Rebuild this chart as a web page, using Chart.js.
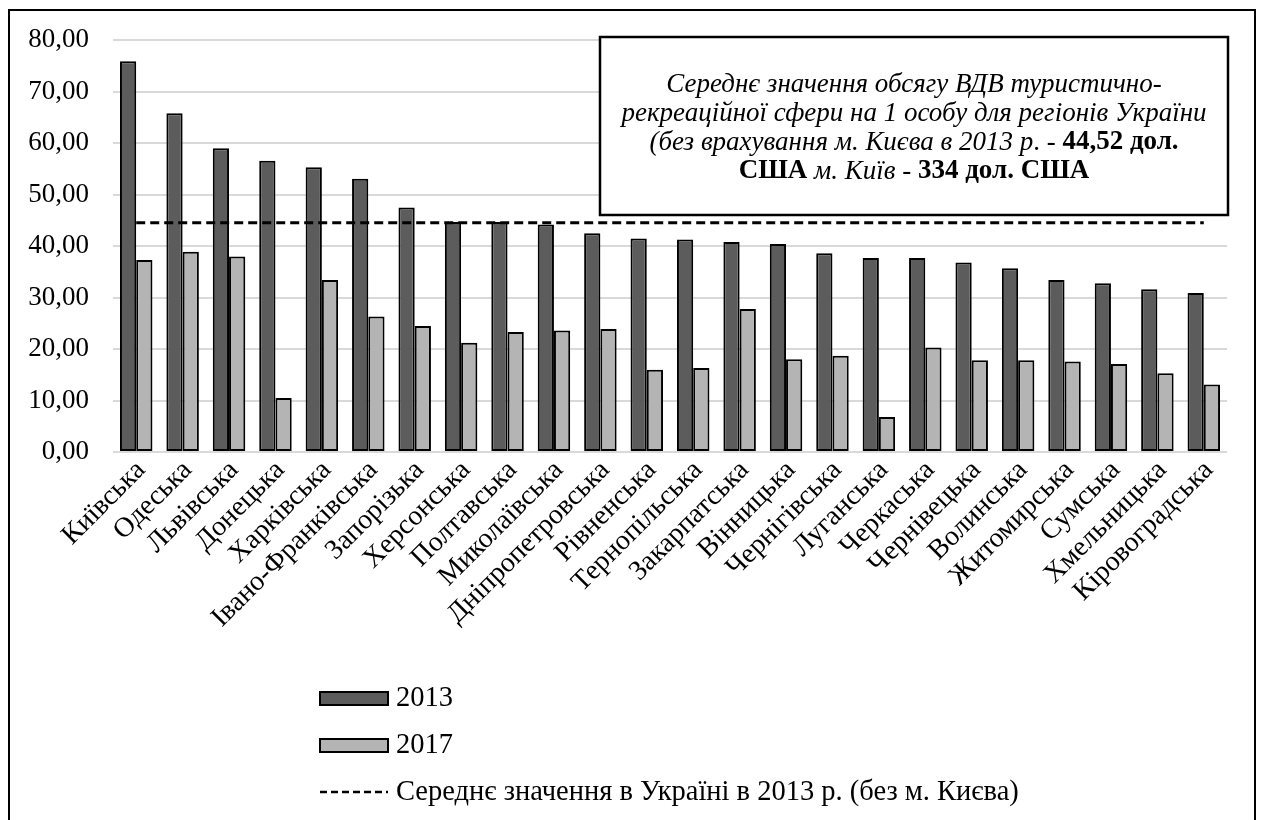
<!DOCTYPE html>
<html>
<head>
<meta charset="utf-8">
<script src="https://cdn.jsdelivr.net/npm/chart.js@4.4.0/dist/chart.umd.min.js"></script>
<style>
html,body{margin:0;padding:0;background:#fff}
#wrap{width:1262px;height:820px;position:relative}
</style>
</head>
<body>
<div id="wrap"><canvas id="chart"></canvas></div>
<script>
const regions=['Київська','Одеська','Львівська','Донецька','Харківська','Івано-Франківська','Запорізька','Херсонська','Полтавська','Миколаївська','Дніпропетровська','Рівненська','Тернопільська','Закарпатська','Вінницька','Чернігівська','Луганська','Черкаська','Чернівецька','Волинська','Житомирська','Сумська','Хмельницька','Кіровоградська'];
const values2013=[75.9,65.8,59.0,56.6,55.3,53.1,47.5,44.7,44.7,44.2,42.5,41.5,41.3,40.8,40.4,38.6,37.7,37.7,36.8,35.7,33.4,32.8,31.6,30.9];
const values2017=[37.3,38.9,38.0,10.5,33.4,26.3,24.5,21.2,23.3,23.6,23.9,16.0,16.3,27.8,18.0,18.7,6.8,20.3,17.8,17.8,17.6,17.1,15.3,13.1];
const mean2013=[44.52,44.52,44.52,44.52,44.52,44.52,44.52,44.52,44.52,44.52,44.52,44.52,44.52,44.52,44.52,44.52,44.52,44.52,44.52,44.52,44.52,44.52,44.52,44.52];
const yTicks={min:0,max:80,step:10};

const SERIF="'Liberation Serif','Times New Roman',serif";

const noteLines=[
  [['italic','Середнє значення обсягу ВДВ туристично-']],
  [['italic','рекреаційної сфери на 1 особу для регіонів України']],
  [['italic','(без врахування м. Києва в 2013 р'],['normal','. - '],['bold','44,52 дол.']],
  [['bold','США'],['italic',' м. Київ'],['normal',' - '],['bold','334 дол. США']]
];

function runFont(style,size){
  if(style==='italic')return 'italic '+size+'px '+SERIF;
  if(style==='bold')return 'bold '+size+'px '+SERIF;
  return size+'px '+SERIF;
}

const decorations={
  id:'decorations',
  beforeDraw(chart){
    const ctx=chart.ctx;
    ctx.save();
    ctx.fillStyle='#fff';
    ctx.fillRect(0,0,chart.width,chart.height);
    ctx.restore();
  },
  afterDraw(chart){
    const ctx=chart.ctx;
    ctx.save();
    // outer frame (bottom edge is cut off in the picture)
    ctx.strokeStyle='#000';
    ctx.lineWidth=2;
    ctx.strokeRect(9,10,1246,900);

    // note box
    const bx=600,by=37,bw=628,bh=178;
    ctx.fillStyle='#fff';
    ctx.fillRect(bx,by,bw,bh);
    ctx.lineWidth=2.5;
    ctx.strokeRect(bx,by,bw,bh);
    ctx.fillStyle='#000';
    ctx.textBaseline='middle';
    ctx.textAlign='left';
    const size=27,lh=29,cx=bx+bw/2;
    const y0=by+bh/2-lh*1.5+2;
    noteLines.forEach((line,i)=>{
      let total=0;
      line.forEach(r=>{ctx.font=runFont(r[0],size);total+=ctx.measureText(r[1]).width;});
      let x=cx-total/2;
      line.forEach(r=>{
        ctx.font=runFont(r[0],size);
        ctx.fillText(r[1],x,y0+i*lh);
        x+=ctx.measureText(r[1]).width;
      });
    });

    // legend, one entry per row
    const lx=320,lw=68,ly=698,gap=47;
    ctx.font=28.5+'px '+SERIF;
    chart.data.datasets.forEach((ds,i)=>{
      const y=ly+i*gap;
      if(ds.type==='line'){
        ctx.strokeStyle=ds.borderColor;
        ctx.lineWidth=2.5;
        ctx.setLineDash([7,4]);
        ctx.beginPath();ctx.moveTo(lx,y);ctx.lineTo(lx+lw,y);ctx.stroke();
        ctx.setLineDash([]);
      }else{
        ctx.fillStyle=ds.backgroundColor;
        ctx.fillRect(lx,y-6,lw,13);
        ctx.strokeStyle='#000';
        ctx.lineWidth=2;
        ctx.strokeRect(lx,y-6,lw,13);
      }
      ctx.fillStyle='#000';
      ctx.fillText(ds.label,lx+lw+8,y+1);
    });
    ctx.restore();
  }
};

new Chart(document.getElementById('chart'),{
  type:'bar',
  data:{
    labels:regions,
    datasets:[
      {label:'2013',data:values2013,backgroundColor:'#5c5c5c',borderColor:'#000',borderWidth:2,borderSkipped:false,categoryPercentage:0.7,barPercentage:1},
      {label:'2017',data:values2017,backgroundColor:'#b4b4b4',borderColor:'#000',borderWidth:2,borderSkipped:false,categoryPercentage:0.7,barPercentage:1},
      {type:'line',label:'Середнє значення в Україні в 2013 р. (без м. Києва)',data:mean2013,borderColor:'#000',borderWidth:3,borderDash:[9,5],pointRadius:0,fill:false,order:-1}
    ]
  },
  options:{
    responsive:true,
    maintainAspectRatio:false,
    animation:false,
    devicePixelRatio:1,
    layout:{padding:{left:0,top:39,right:35,bottom:0}},
    plugins:{legend:{display:false},tooltip:{enabled:false}},
    scales:{
      x:{
        grid:{display:false},
        border:{display:false},
        ticks:{autoSkip:false,minRotation:45,maxRotation:45,padding:-6,labelOffset:5,color:'#000',font:{family:SERIF,size:28}},
        afterFit(s){s.height=368;}
      },
      y:{
        min:yTicks.min,max:yTicks.max,
        grid:{color:'#d9d9d9',lineWidth:2,drawTicks:false},
        border:{display:false},
        ticks:{stepSize:yTicks.step,padding:24,color:'#000',font:{family:SERIF,size:27},
          callback:v=>v.toFixed(2).replace('.',',')},
        afterFit(s){s.width=113;}
      }
    }
  },
  plugins:[decorations]
});
</script>
</body>
</html>
